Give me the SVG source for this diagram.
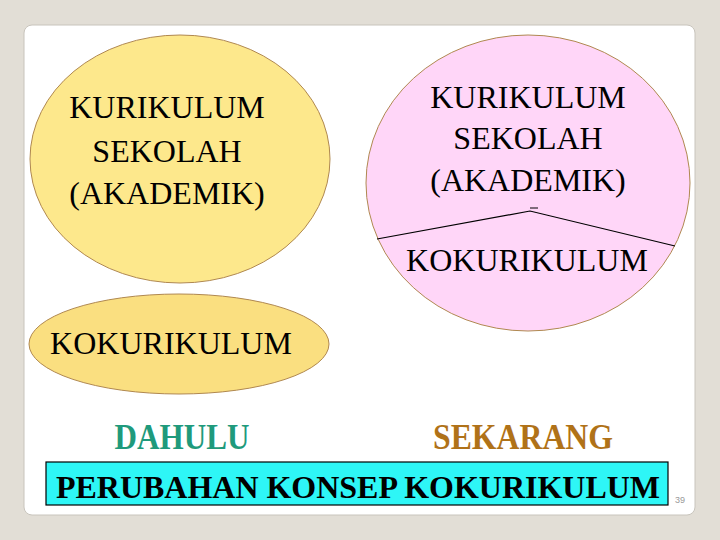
<svg xmlns="http://www.w3.org/2000/svg" width="720" height="540" viewBox="0 0 720 540">
<style>
.t{font-family:"Liberation Serif","Times New Roman",serif;font-size:32px;fill:#000;text-anchor:middle}
.b{font-weight:bold;font-size:35px}
.el{stroke:#b08850;stroke-width:1}
</style>
<rect x="0" y="0" width="720" height="540" fill="#e2ded6"/>
<rect x="24" y="25" width="671" height="490" rx="8" fill="#ffffff" stroke="#c8c4bc"/>
<g id="left-kurikulum">
<ellipse class="el" cx="180" cy="159" rx="150" ry="124" fill="#fde88c"/>
<text class="t" x="167" y="118">KURIKULUM</text>
<text class="t" x="167" y="162">SEKOLAH</text>
<text class="t" x="167" y="204">(AKADEMIK)</text>
</g>
<g id="left-kokurikulum">
<ellipse class="el" cx="179" cy="344" rx="150" ry="50" fill="#fadf80"/>
<text class="t" x="171" y="354">KOKURIKULUM</text>
</g>
<g id="right-circle">
<ellipse class="el" cx="528" cy="183" rx="162" ry="148" fill="#ffd6f8"/>
<text class="t" x="528" y="108">KURIKULUM</text>
<text class="t" x="528" y="149">SEKOLAH</text>
<text class="t" x="528" y="191">(AKADEMIK)</text>
<text class="t" x="527" y="271">KOKURIKULUM</text>
</g>
<g id="connectors">
<polyline points="377,239 530,211 675,246" fill="none" stroke="#000" stroke-width="1.2"/>
<line x1="530" y1="208" x2="538" y2="208" stroke="#000" stroke-width="1"/>
</g>
<g id="labels">
<text class="t b" x="182" y="449" textLength="135" lengthAdjust="spacingAndGlyphs" style="fill:#1f9a7c">DAHULU</text>
<text class="t b" x="523" y="449" textLength="180" lengthAdjust="spacingAndGlyphs" style="fill:#b07218">SEKARANG</text>
</g>
<g id="title">
<rect x="46" y="462" width="622" height="43" fill="#2ef6f6" stroke="#000" stroke-width="1.2"/>
<text class="t b" x="358" y="498" style="font-size:32px" textLength="604" lengthAdjust="spacingAndGlyphs">PERUBAHAN KONSEP KOKURIKULUM</text>
</g>
<text x="675" y="503" font-family="Liberation Sans, Arial, sans-serif" font-size="9" fill="#999">39</text>
</svg>
